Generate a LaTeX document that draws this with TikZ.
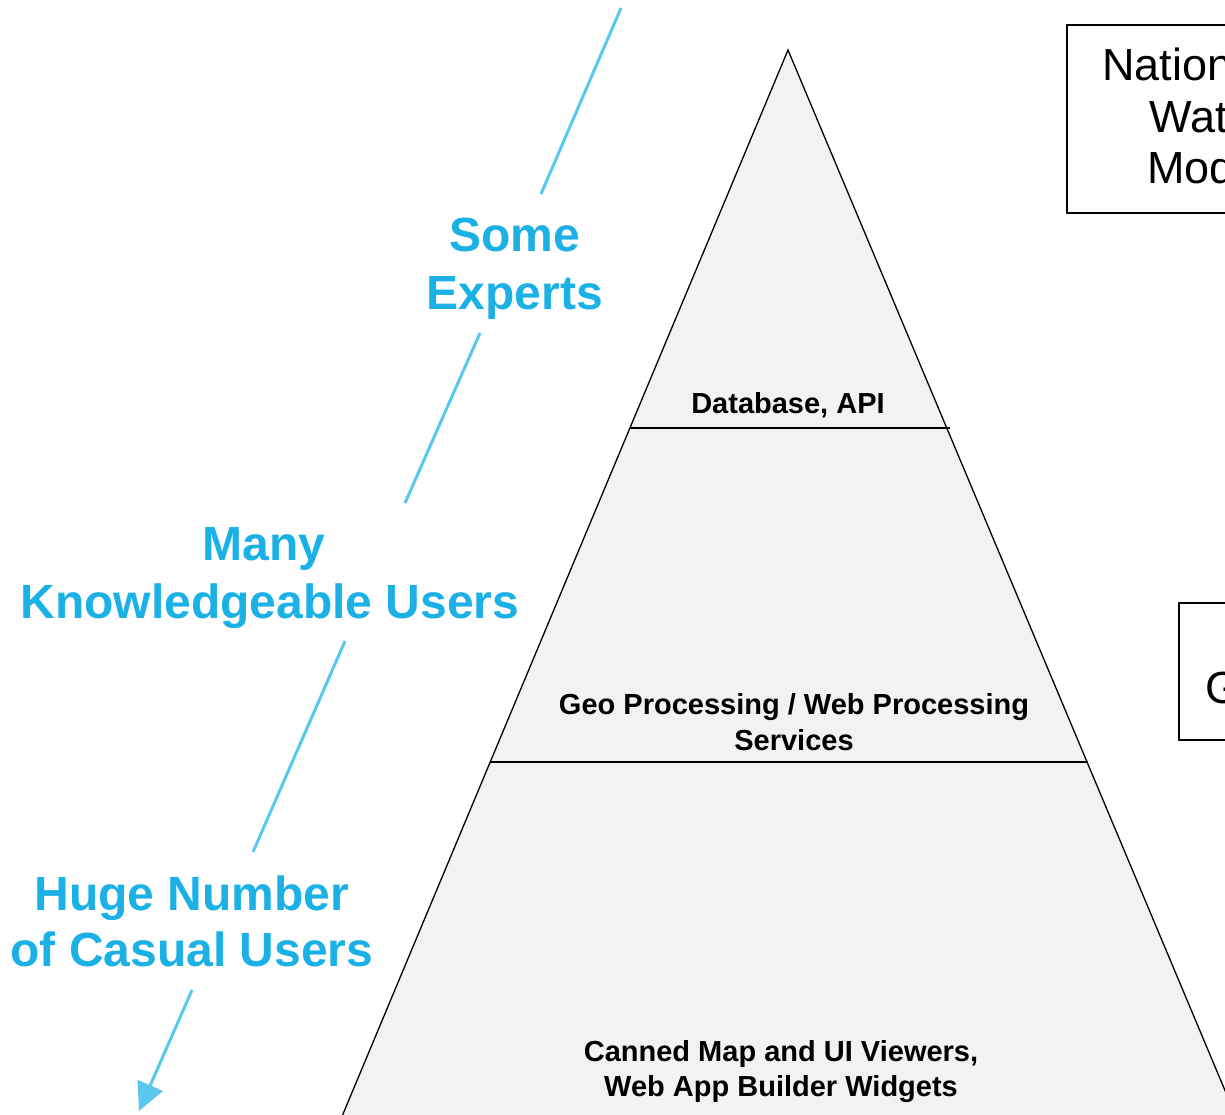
\documentclass[tikz,border=0pt]{standalone}
\usepackage{fontspec}
\setmainfont{Liberation Sans}
\usetikzlibrary{arrows.meta}
\definecolor{lblblue}{RGB}{27,177,230}
\definecolor{arrblue}{RGB}{90,200,238}
\definecolor{pyrfill}{RGB}{242,242,242}
\tikzset{
  bluetxt/.style={text=lblblue, font=\fontsize{48}{57}\selectfont\bfseries, inner sep=0pt, anchor=base},
  layertxt/.style={text=black, font=\fontsize{29}{35}\selectfont\bfseries, inner sep=0pt, anchor=base},
  boxtxt/.style={text=black, font=\fontsize{45}{51}\selectfont, inner sep=0pt, anchor=base west},
  flow/.style={draw=arrblue, line width=3pt},
  edge/.style={draw=black, line width=1.3pt},
  divider/.style={draw=black, line width=2pt},
  sidebox/.style={draw=black, line width=1.3pt, fill=white}
}
\begin{document}
\begin{tikzpicture}[x=1pt,y=-1pt]
\useasboundingbox (0,0) rectangle (1225,1114);
\clip (0,0) rectangle (1225,1114);
\fill[white] (0,0) rectangle (1225,1114);
% pyramid
\coordinate (apex) at (788,50);
\coordinate (bl) at (336.3,1130);
\coordinate (br) at (1241.6,1130);
\filldraw[fill=pyrfill, edge] (bl) -- (apex) -- (br);
\coordinate (d1l) at (630,428);
\coordinate (d1r) at (950,428);
\coordinate (d2l) at (490,762);
\coordinate (d2r) at (1088,762);
\draw[divider] (d1l) -- (d1r);
\draw[divider] (d2l) -- (d2r);
% layer labels
\node[layertxt] (db) at (788,413) {Database, API};
\node[layertxt] (geo1) at (794,714) {Geo Processing / Web Processing};
\node[layertxt] (geo2) at (794,750) {Services};
\node[layertxt] (can1) at (781,1061) {Canned Map and UI Viewers,};
\node[layertxt] (can2) at (781,1096) {Web App Builder Widgets};
% side boxes (cropped)
\draw[sidebox] (1067,25) rectangle (1400,213);
\node[boxtxt] (nwm1) at (1102,80) {National};
\node[boxtxt] (nwm2) at (1149,132) {Water};
\node[boxtxt] (nwm3) at (1147,183) {Model};
\draw[sidebox] (1179,603) rectangle (1400,740);
\node[boxtxt] (gbox) at (1205,703) {G};
% blue user labels
\node[bluetxt] (some) at (515,251) {Some};
\node[bluetxt] (experts) at (515,309) {Experts};
\node[bluetxt] (many) at (264,560) {Many};
\node[bluetxt] (know) at (270,618) {Knowledgeable Users};
\node[bluetxt] (huge) at (192,910) {Huge Number};
\node[bluetxt] (casual) at (192,966) {of Casual Users};
% arrow segments
\coordinate (a1) at (621,8);
\coordinate (a2) at (541,194);
\coordinate (a3) at (480,333);
\coordinate (a4) at (405,503);
\coordinate (a5) at (345,641);
\coordinate (a6) at (253,852);
\coordinate (a7) at (192,990);
\coordinate (a8) at (139,1111);
\draw[flow] (a1) -- (a2);
\draw[flow] (a3) -- (a4);
\draw[flow] (a5) -- (a6);
\draw[flow, -{Triangle[length=28pt,width=27pt]}] (a7) -- (a8);
\end{tikzpicture}
\end{document}
